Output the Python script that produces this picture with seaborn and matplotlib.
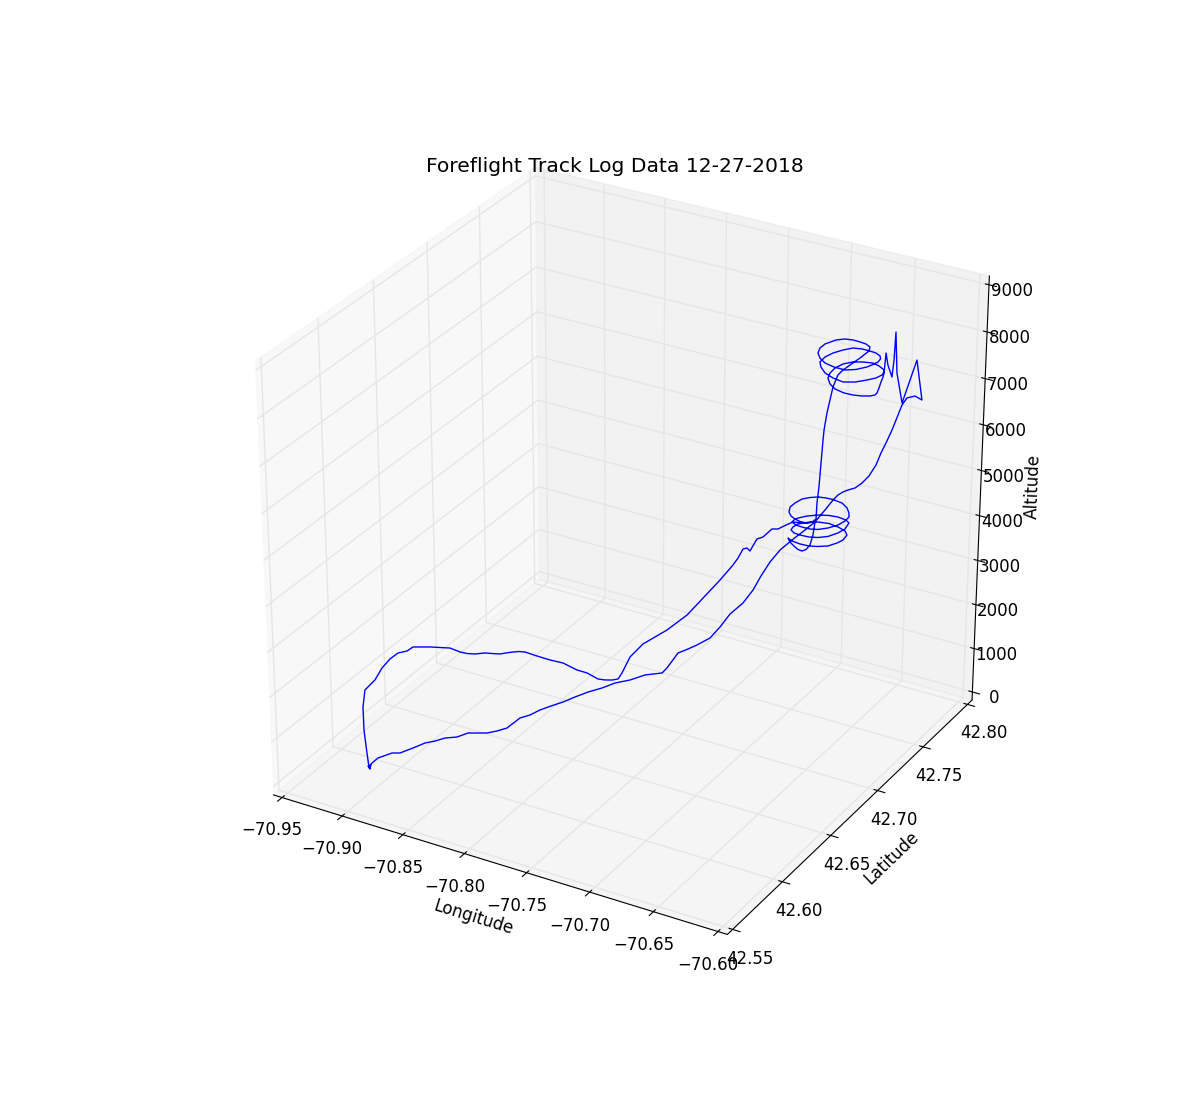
import numpy as np
import seaborn as sns
import matplotlib
matplotlib.use('Agg')
import matplotlib.pyplot as plt

# track log
lon = [-70.9102,-70.9151,-70.9206,-70.9249,-70.9263,-70.9236,-70.9209,-70.9205,-70.9191,-70.9170,-70.9113,-70.9090,-70.8986,-70.8856,-70.8810,-70.8765,-70.8711,-70.8658,-70.8632,-70.8605,-70.8558,-70.8506,-70.8477,-70.8441,-70.8409,-70.8368,-70.8266,-70.8157,-70.8056,-70.7921,-70.7838,-70.7729,-70.7680,-70.7637,-70.7608,-70.7611,-70.7644,-70.7626,-70.7581,-70.7532,-70.7469,-70.7439,-70.7407,-70.7388,
       -70.7385,-70.7394,-70.7361,-70.7321,-70.7333,-70.7294,-70.7249,-70.7196,-70.7159,-70.7122,-70.7038,-70.6955,-70.6875,-70.6829,-70.6824,-70.6844,-70.6886,-70.6938,-70.6994,-70.7038,-70.6992,-70.6919,-70.6846,-70.6785,-70.6724,-70.6687,-70.6668,-70.6673,-70.6710,-70.6778,-70.6855,-70.6930,-70.6991,-70.7033,-70.7039,-70.7026,-70.6983,-70.6929,-70.6857,-70.6795,-70.6740,-70.6702,-70.6684,-70.6699,
       -70.6735,-70.6802,-70.6865,-70.6933,-70.6990,-70.7028,-70.7037,-70.7033,-70.6984,-70.6930,-70.6863,-70.6808,-70.6754,-70.6711,-70.6697,-70.6697,-70.6723,-70.6767,-70.6827,-70.6902,-70.6952,-70.7006,-70.7048,-70.7083,-70.7094,-70.7092,-70.7059,-70.7015,-70.6966,-70.6915,-70.6858,-70.6828,-70.6819,-70.6873,-70.6896,-70.6888,-70.6889,-70.6880,-70.6868,-70.6843,-70.6816,-70.6751,-70.6715,-70.6728,
       -70.6776,-70.6829,-70.6888,-70.6946,-70.6997,-70.7037,-70.7041,-70.7019,-70.6973,-70.6909,-70.6828,-70.6743,-70.6686,-70.6643,-70.6630,-70.6623,-70.6633,-70.6661,-70.6711,-70.6766,-70.6833,-70.6898,-70.6947,-70.6989,-70.7011,-70.7008,-70.6968,-70.6902,-70.6821,-70.6734,-70.6665,-70.6611,-70.6575,-70.6563,-70.6576,-70.6594,-70.6657,-70.6719,-70.6790,-70.6855,-70.6904,-70.6926,-70.6924,-70.6905,
       -70.6853,-70.6791,-70.6711,-70.6646,-70.6588,-70.6543,-70.6522,-70.6526,-70.6548,-70.6578,-70.6595,-70.6612,-70.6547,-70.6531,-70.6502,-70.6481,-70.6457,-70.6468,-70.6432,-70.6371,-70.6326,-70.6285,-70.6339,-70.6390,-70.6434,-70.6492,-70.6524,-70.6554,-70.6578,-70.6606,-70.6630,-70.6653,-70.6691,-70.6714,-70.6748,-70.6765,-70.6806,-70.6861,-70.6912,-70.6999,-70.7064,-70.7103,-70.7131,-70.7149,
       -70.7181,-70.7229,-70.7261,-70.7291,-70.7353,-70.7395,-70.7443,-70.7483,-70.7493,-70.7599,-70.7670,-70.7756,-70.7816,-70.7888,-70.7948,-70.8001,-70.8061,-70.8116,-70.8157,-70.8212,-70.8251,-70.8306,-70.8369,-70.8517,-70.8571,-70.8653,-70.8718,-70.8788,-70.8857,-70.8933,-70.8998,-70.9080,-70.9096,-70.9102,-70.9094,-70.9115,-70.9098,-70.9095]
lat = [42.5815,42.5854,42.5893,42.5937,42.5975,42.5993,42.6010,42.6074,42.6134,42.6187,42.6208,42.6239,42.6282,42.6323,42.6318,42.6314,42.6318,42.6334,42.6351,42.6368,42.6381,42.6397,42.6421,42.6447,42.6466,42.6477,42.6472,42.6470,42.6476,42.6450,42.6449,42.6424,42.6433,42.6450,42.6474,42.6517,42.6638,42.6746,42.6811,42.6871,42.6997,42.7122,42.7257,42.7367,
       42.7415,42.7479,42.7477,42.7457,42.7545,42.7558,42.7593,42.7587,42.7624,42.7649,42.7644,42.7662,42.7534,42.7441,42.7393,42.7377,42.7390,42.7416,42.7448,42.7485,42.7467,42.7455,42.7454,42.7468,42.7494,42.7540,42.7579,42.7628,42.7657,42.7673,42.7679,42.7661,42.7624,42.7583,42.7537,42.7500,42.7475,42.7467,42.7466,42.7480,42.7513,42.7569,42.7620,42.7683,
       42.7699,42.7703,42.7691,42.7663,42.7621,42.7575,42.7544,42.7518,42.7495,42.7487,42.7484,42.7496,42.7531,42.7580,42.7635,42.7679,42.7713,42.7752,42.7778,42.7780,42.7773,42.7758,42.7728,42.7689,42.7629,42.7574,42.7519,42.7482,42.7460,42.7444,42.7443,42.7457,42.7487,42.7567,42.7616,42.7638,42.7648,42.7663,42.7705,42.7721,42.7737,42.7829,42.7875,42.7903,
       42.7926,42.7934,42.7939,42.7931,42.7903,42.7840,42.7792,42.7742,42.7701,42.7669,42.7656,42.7659,42.7698,42.7757,42.7804,42.7848,42.7889,42.7923,42.7947,42.7957,42.7962,42.7954,42.7914,42.7863,42.7808,42.7750,42.7707,42.7663,42.7638,42.7628,42.7662,42.7716,42.7763,42.7813,42.7852,42.7877,42.7909,42.7928,42.7918,42.7898,42.7857,42.7802,42.7747,42.7699,
       42.7652,42.7622,42.7610,42.7617,42.7634,42.7659,42.7683,42.7710,42.7762,42.7824,42.7869,42.7903,42.7827,42.7829,42.7836,42.7824,42.7802,42.7842,42.7858,42.7851,42.7857,42.7868,42.7867,42.7851,42.7861,42.7841,42.7833,42.7813,42.7796,42.7760,42.7719,42.7676,42.7652,42.7629,42.7623,42.7593,42.7564,42.7533,42.7497,42.7476,42.7437,42.7384,42.7327,42.7269,
       42.7206,42.7134,42.7072,42.7008,42.6953,42.6914,42.6873,42.6811,42.6774,42.6733,42.6671,42.6626,42.6569,42.6518,42.6461,42.6407,42.6362,42.6318,42.6269,42.6238,42.6157,42.6126,42.6102,42.6092,42.6049,42.6029,42.6008,42.5992,42.5957,42.5919,42.5917,42.5876,42.5838,42.5815,42.5815,42.5821,42.5829,42.5816]
alt = [100,300,700,1100,1400,1500,1600,1750,1850,1900,1950,2000,2000,2000,2000,2000,2000,2000,2000,2000,2000,2000,2000,2000,2000,2000,2000,2000,2000,2000,2000,2000,2000,2000,2000,2050,2150,2250,2320,2400,2550,2720,2900,3050,3120,3200,3250,3250,3350,3400,3550,3600,3650,3700,
       3750,3800,3800,3780,3770,3750,3730,3720,3710,3700,
       3700,3710,3720,3730,3740,3750,3760,3780,3790,3800,3810,3820,3830,3840,3850,3860,
       3870,3880,3890,3900,3905,3910,3920,3930,3940,3950,3960,3970,3980,3990,3995,4000,
       4010,4020,4030,4040,4050,4060,4060,4070,4080,4090,4110,4130,4140,4150,4160,4170,4180,4190,4200,4210,4220,4230,4240,4260,4280,4450,4700,
       5700,5900,6250,6750,7000,7100,7250,7350,
       7380,7375,7370,7365,7360,7350,7340,7330,7320,7310,7300,7290,7280,7265,7250,7235,7220,7210,7200,7190,7180,7170,7160,7150,7140,7130,7120,7110,7100,7090,7080,7070,7060,7050,7040,7030,7020,7010,7000,6990,6980,6970,6960,6945,6930,6915,6900,6890,6880,6870,6860,6855,6850,6855,6860,6880,6900,
       7500,7250,7000,7400,8050,7100,6450,7000,7450,6600,6650,6600,6400,5850,5600,5350,5100,4900,4800,4750,4720,4700,4620,4550,4350,4100,3950,3700,3500,3300,3070,2850,2650,2500,2300,2150,2050,2000,1950,1700,1650,1600,1550,1500,1450,1400,1350,1300,1250,1200,1150,1100,1000,950,900,800,750,700,620,550,450,350,300,200,150,100,60,100,120,80]

lon_ticks = [-70.95, -70.90, -70.85, -70.80, -70.75, -70.70, -70.65, -70.60]
lat_ticks = [42.55, 42.60, 42.65, 42.70, 42.75, 42.80]
alt_ticks = [0, 1000, 2000, 3000, 4000, 5000, 6000, 7000, 8000, 9000]

sns.set_style('white', {'axes.edgecolor': 'black', 'text.color': 'black', 'xtick.color': 'black', 'ytick.color': 'black', 'axes.labelcolor': 'black'})
plt.rcParams['font.family'] = ['DejaVu Sans']
plt.rcParams['font.size'] = 12

fig = plt.figure(figsize=(12, 11), dpi=100)
ax = fig.add_subplot(111, projection='3d', position=[0.1085, 0.0839, 0.808, 0.832])
# old mplot3d look: unit cube stretched to the axes rectangle
ax.set_box_aspect((1, 1, 1), zoom=np.sqrt(3) / (1.8294640721620434 * 25 / 24))
ax.apply_aspect = lambda position=None: ax._set_position(ax.get_position(original=True), 'active')

ax.plot(lon, lat, alt, color='b', lw=1)

ax.set_xlim(-70.95 - 0.35 / 48, -70.60 + 0.35 / 48)
ax.set_ylim(42.55 - 0.25 / 48, 42.80 + 0.25 / 48)
ax.set_zlim(-187.5, 9187.5)
ax.set_xticks(lon_ticks)
ax.set_yticks(lat_ticks)
ax.set_zticks(alt_ticks)
ax.tick_params(axis='x', pad=5)
ax.tick_params(axis='y', pad=5)
ax.set_xlabel('Longitude', labelpad=8)
ax.set_ylabel('Latitude', labelpad=8)
ax.set_zlabel('Altitude', labelpad=6)
ax.set_title('Foreflight Track Log Data 12-27-2018', fontsize=14.6, pad=0, y=0.992)
for axis in (ax.xaxis, ax.yaxis, ax.zaxis):
    axis._axinfo['grid']['color'] = (0.9, 0.9, 0.9, 1)
    axis._axinfo['grid']['linewidth'] = 1

fig.savefig('out.png')
